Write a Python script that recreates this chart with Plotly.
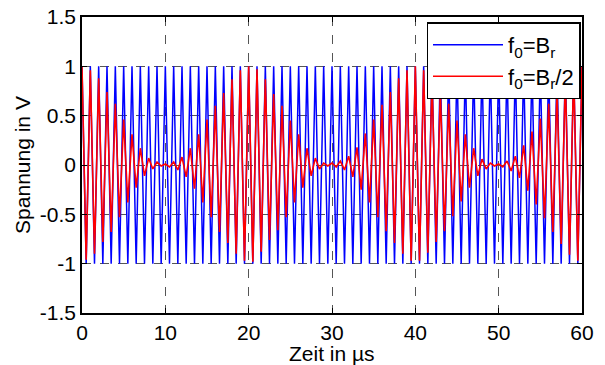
import plotly.graph_objects as go

# time axis: extrema every 0.5 µs from 0 to 60 µs
t_step = 0.5
n_pts = 121
time_us = [i * t_step for i in range(n_pts)]

# blue trace (f0 = Br): extrema
blue_v = [
    1, -1, 1, -1, 1, -1, 1, -1, 1, -1, 1, -1, 1, -1, 1, -1, 1, -1, 1, -1,
    1, -1, 1, -1, 1, -1, 1, -1, 1, -1, 1, -1, 1, -1, 1, -1, 1, -1, 1, -1,
    1, -1, 1, -1, 1, -1, 1, -1, 1, -1, 1, -1, 1, -1, 1, -1, 1, -1, 1, -1,
    1, -1, 1, -1, 1, -1, 1, -1, 1, -1, 1, -1, 1, -1, 1, -1, 1, -1, 1, -1,
    1, -1, 1, -1, 1, -1, 1, -1, 1, -1, 1, -1, 1, -1, 1, -1, 1, -1, 1, -1,
    1, -1, 1, -1, 1, -1, 1, -1, 1, -1, 1, -1, 1, -1, 1, -1, 1, -1, 1, -1,
    1,
]

# red trace (f0 = Br/2): extrema
red_v = [
    1.00, -0.96, 0.96, -0.90, 0.88, -0.78, 0.74, -0.68, 0.62, -0.53,
    0.46, -0.38, 0.31, -0.23, 0.17, -0.11, 0.07, -0.04, 0.03, -0.01,
    0.01, -0.02, 0.03, -0.05, 0.08, -0.12, 0.17, -0.24, 0.31, -0.38,
    0.46, -0.53, 0.60, -0.68, 0.73, -0.79, 0.87, -0.90, 0.96, -0.97,
    1.00, -0.98, 0.97, -0.88, 0.87, -0.76, 0.72, -0.66, 0.60, -0.53,
    0.45, -0.38, 0.31, -0.23, 0.17, -0.11, 0.07, -0.04, 0.02, -0.01,
    0.02, -0.02, 0.04, -0.05, 0.09, -0.12, 0.18, -0.25, 0.32, -0.38,
    0.46, -0.53, 0.61, -0.67, 0.74, -0.79, 0.88, -0.90, 0.96, -0.97,
    1.00, -0.97, 0.96, -0.89, 0.87, -0.78, 0.74, -0.67, 0.62, -0.52,
    0.45, -0.37, 0.31, -0.23, 0.17, -0.11, 0.06, -0.04, 0.02, -0.01,
    0.01, -0.02, 0.04, -0.06, 0.09, -0.13, 0.20, -0.26, 0.34, -0.40,
    0.47, -0.54, 0.62, -0.68, 0.75, -0.80, 0.88, -0.91, 0.96, -0.97,
    1.00,
]

x_ticks = [0, 10, 20, 30, 40, 50, 60]
y_ticks = [-1.5, -1, -0.5, 0, 0.5, 1, 1.5]
y_tick_text = ["-1.5", "-1", "-0.5", "0", "0.5", "1", "1.5"]

font_family = "Liberation Sans, Arial, sans-serif"

fig = go.Figure()
fig.add_trace(go.Scatter(
    x=time_us, y=blue_v, mode="lines",
    line=dict(color="#0000FF", width=1.5),
    name="f<sub>0</sub>=B<sub>r</sub>",
))
fig.add_trace(go.Scatter(
    x=time_us, y=red_v, mode="lines",
    line=dict(color="#FF0000", width=1.6),
    name="f<sub>0</sub>=B<sub>r</sub>/2",
))

axis_common = dict(
    showline=True, linecolor="black", linewidth=1.5, mirror="ticks",
    ticks="inside", ticklen=5, tickcolor="black", tickwidth=1,
    showgrid=True, gridcolor="#555555", griddash="dash", gridwidth=1,
    zeroline=False, automargin=False,
    tickfont=dict(family=font_family, size=21, color="black"),
    title_font=dict(family=font_family, size=21, color="black"),
)

fig.update_xaxes(range=[0, 60], tickvals=x_ticks, **axis_common)
fig.update_yaxes(
    range=[-1.5, 1.5], tickvals=y_ticks, ticktext=y_tick_text,
    title_text="Spannung in V", title_standoff=4,
    **axis_common,
)

# x-axis title placed as text just below the tick labels
fig.add_annotation(
    text="Zeit in µs", xref="paper", yref="paper",
    x=0.5, y=-0.136, xanchor="center", yanchor="middle",
    showarrow=False, borderpad=0,
    font=dict(family=font_family, size=21, color="black"),
)

fig.update_layout(
    width=605, height=365,
    margin=dict(l=82, r=23, t=17, b=52),
    paper_bgcolor="white", plot_bgcolor="white",
    font=dict(family=font_family, size=21, color="black"),
    showlegend=True,
    legend=dict(
        x=0.997, y=0.982, xanchor="right", yanchor="top",
        bgcolor="white", bordercolor="black", borderwidth=1.5,
        font=dict(family=font_family, size=22, color="black"),
        tracegroupgap=0, itemwidth=70,
    ),
)

fig.write_html("out.html")
